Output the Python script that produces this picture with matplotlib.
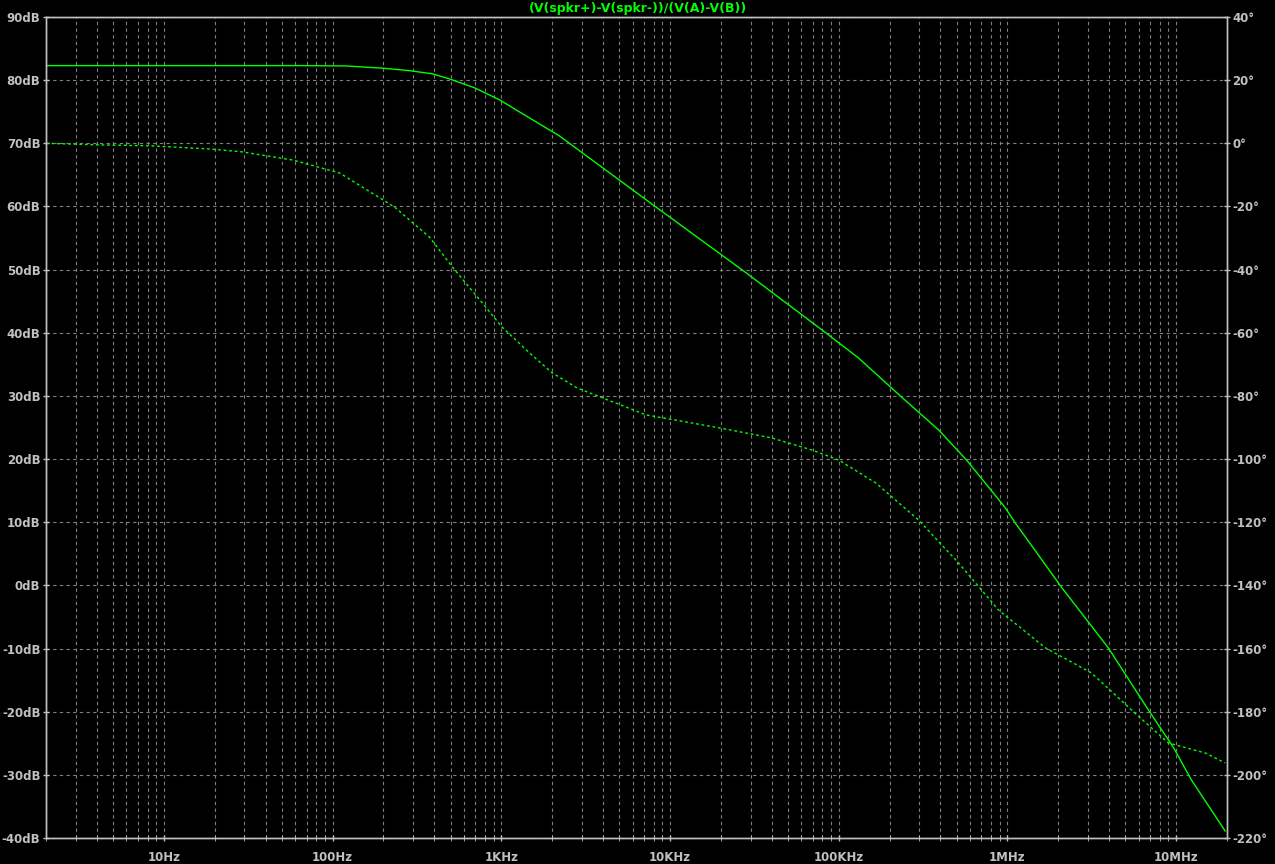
import matplotlib.pyplot as plt
from matplotlib.ticker import FixedLocator, LogLocator, NullFormatter

# Bode plot data
mag_freq = [2, 10, 64, 120, 198, 286, 391, 492, 692, 973, 1370, 2200, 8260,
            28200, 83700, 131000, 236000, 391000, 572000, 973000, 1110000,
            1290000, 2090000, 3960000, 6830000, 9600000, 12300000, 19500000]
mag_db = [82.3, 82.3, 82.3, 82.25, 81.9, 81.5, 81.0, 80.2, 78.8, 76.9, 74.5,
          71.2, 59.9, 49.5, 40.0, 36.0, 29.8, 24.6, 19.85, 12.25, 9.9, 7.5,
          -0.3, -9.9, -19.7, -25.6, -30.8, -38.9]

ph_freq = [2, 4.2, 8.3, 18.7, 29, 58, 110, 233, 375, 513, 772, 1010, 1470,
           2000, 2820, 7200, 19500, 40000, 69000, 100000, 166000, 297000,
           513000, 885000, 1680000, 3140000, 5420000, 8980000, 14900000,
           19500000]
ph_deg = [0, -0.5, -0.8, -1.8, -2.7, -5.3, -9.4, -20.2, -29.7, -39.2, -50.6,
          -58.2, -66.4, -72.7, -77.5, -86.0, -90.1, -93.3, -97.1, -100.3,
          -107.6, -119.3, -132.9, -147.8, -159.8, -167.7, -179.4, -189.9,
          -193.1, -196.2]

freq_ticks = [10, 100, 1e3, 1e4, 1e5, 1e6, 1e7]
freq_labels = ['10Hz', '100Hz', '1KHz', '10KHz', '100KHz', '1MHz', '10MHz']
db_ticks = list(range(-40, 100, 10))
deg_ticks = list(range(-220, 60, 20))

title = '(V(spkr+)-V(spkr-))/(V(A)-V(B))'

green = '#00ff00'
axcol = '#c0c0c0'
gridcol = '#808080'

fig = plt.figure(figsize=(12.75, 8.64), dpi=100, facecolor='black')
ax = fig.add_axes([46 / 1275, 26 / 864, (1227 - 46) / 1275, (838 - 17) / 864])
ax.set_facecolor('black')
ax2 = ax.twinx()

ax.plot(mag_freq, mag_db, color=green, lw=1.0)
ax2.plot(ph_freq, ph_deg, color=green, lw=1.0, ls=(0, (2, 2)))

ax.set_xscale('log')
ax.set_xlim(2, 2e7)
ax.set_ylim(-40, 90)
ax2.set_ylim(-220, 40)

ax.xaxis.set_major_locator(FixedLocator(freq_ticks))
ax.set_xticklabels(freq_labels)
ax.xaxis.set_minor_locator(LogLocator(base=10, subs=range(2, 10), numticks=20))
ax.xaxis.set_minor_formatter(NullFormatter())
ax.set_yticks(db_ticks)
ax.set_yticklabels([f'{v}dB' for v in db_ticks])
ax2.set_yticks(deg_ticks)
ax2.set_yticklabels([f'{v}°' for v in deg_ticks])

ax.grid(True, which='both', axis='x', color=gridcol, ls=(0, (3, 3)), lw=0.8)
ax.grid(True, which='major', axis='y', color=gridcol, ls=(0, (3, 3)), lw=0.8)

for a in (ax, ax2):
    for s in a.spines.values():
        s.set_color(axcol)
        s.set_linewidth(1.0)
    a.tick_params(colors=axcol, labelsize=8.5, width=1, length=5,
                  direction='inout', pad=1.5)
    for lab in a.get_xticklabels() + a.get_yticklabels():
        lab.set_fontweight('bold')
ax.tick_params(which='minor', axis='x', colors=axcol, length=4, direction='inout')
ax.tick_params(axis='x', pad=7)

fig.text(0.5, 0.998, title, color=green, fontsize=9, fontweight='bold',
         ha='center', va='top')

fig.savefig('out.png', dpi=100, facecolor='black')
